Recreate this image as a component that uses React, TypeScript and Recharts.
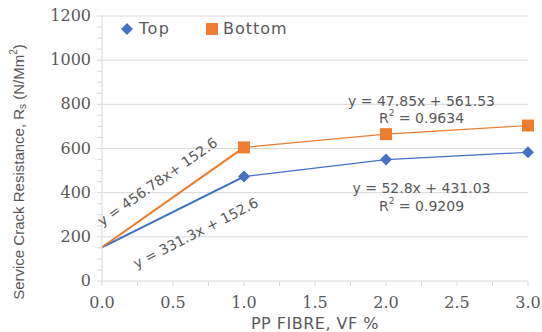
import React from 'react';
import { LineChart, Line, XAxis, YAxis, CartesianGrid, ReferenceDot, Label } from 'recharts';

// PP fibre content (VF %) and service crack resistance Rs (N/mm2)
const fibre = [0, 1, 2, 3];
const topValues = [152.6, 473, 550, 583];
const bottomValues = [152.6, 605, 665, 704];

// x ticks every 0.25, labels on the halves; y ticks every 50, labels every 200
const xTicks = [0, 0.25, 0.5, 0.75, 1, 1.25, 1.5, 1.75, 2, 2.25, 2.5, 2.75, 3];
const yTicks = [0, 50, 100, 150, 200, 250, 300, 350, 400, 450, 500, 550, 600, 650, 700, 750, 800, 850, 900, 950, 1000, 1050, 1100, 1150, 1200];
const gridValues = [200, 400, 600, 800, 1000, 1200];

const BLUE = '#4472C4';
const ORANGE = '#ED7D31';
const GREY = '#595959';
const SANS = '"DejaVu Sans", sans-serif';
const SERIF = '"DejaVu Serif", serif';

const data = fibre.map((f, i) => ({
  fibre: f,
  top: topValues[i],
  bottom: bottomValues[i],
  // linear fit through the first two points, drawn heavier
  topFit: i <= 1 ? topValues[i] : undefined,
  bottomFit: i <= 1 ? bottomValues[i] : undefined,
}));

const Diamond = (props: any) => {
  const { cx, cy, index } = props;
  if (index === 0 || cx == null) return <g key={`d${index}`} />;
  const r = 6;
  return (
    <path
      key={`d${index}`}
      d={`M${cx},${cy - r} L${cx + r},${cy} L${cx},${cy + r} L${cx - r},${cy} Z`}
      fill={BLUE}
    />
  );
};

const Square = (props: any) => {
  const { cx, cy, index } = props;
  if (index === 0 || cx == null) return <g key={`s${index}`} />;
  const s = 6;
  return <rect key={`s${index}`} x={cx - s} y={cy - s} width={s * 2} height={s * 2} fill={ORANGE} />;
};

const XTick = (props: any) => {
  const { x, y, payload } = props;
  if (Math.round(payload.value * 100) % 50 !== 0) return <g />;
  return (
    <text x={x} y={y + 20} textAnchor="middle" fill={GREY} fontFamily={SERIF} fontSize={16}>
      {payload.value.toFixed(1)}
    </text>
  );
};

const YTick = (props: any) => {
  const { x, y, payload } = props;
  if (payload.value % 200 !== 0) return <g />;
  return (
    <text x={x - 4} y={y} dy={5} textAnchor="end" fill={GREY} fontFamily={SERIF} fontSize={16}>
      {payload.value}
    </text>
  );
};

const LegendBox = () => (
  <svg width={200} height={24} style={{ position: 'absolute', left: 115, top: 17 }}>
    <path d="M12,6 L18,12 L12,18 L6,12 Z" fill={BLUE} />
    <text x={24} y={17} fill={GREY} fontFamily={SANS} fontSize={16} letterSpacing={1.5}>Top</text>
    <rect x={91} y={6} width={12} height={12} fill={ORANGE} />
    <text x={108} y={17} fill={GREY} fontFamily={SANS} fontSize={16} letterSpacing={1}>Bottom</text>
  </svg>
);

const eqLabel = (text: string, angle: number) => (props: any) => {
  const { viewBox } = props;
  const cx = viewBox.x + viewBox.width / 2;
  const cy = viewBox.y + viewBox.height / 2;
  return (
    <text
      x={cx}
      y={cy}
      textAnchor="middle"
      dominantBaseline="central"
      fill={GREY}
      fontFamily={SANS}
      fontSize={14}
      transform={angle ? `rotate(${angle}, ${cx}, ${cy})` : undefined}
    >
      {text}
    </text>
  );
};

const r2Label = (value: string) => (props: any) => {
  const { viewBox } = props;
  const cx = viewBox.x + viewBox.width / 2;
  const cy = viewBox.y + viewBox.height / 2;
  return (
    <text x={cx} y={cy} textAnchor="middle" dominantBaseline="central" fill={GREY} fontFamily={SANS} fontSize={14}>
      R<tspan dy={-5} fontSize={9}>2</tspan>
      <tspan dy={5}> = {value}</tspan>
    </text>
  );
};

export default function App() {
  return (
    <div style={{ position: 'fixed', left: 0, top: 0, width: 542, height: 332, background: '#fff' }}>
      <LineChart width={542} height={332} data={data} margin={{ top: 16, right: 14, bottom: 21, left: 42 }}>
        <CartesianGrid horizontalValues={gridValues} vertical={false} stroke="#d9d9d9" />
        <XAxis
          dataKey="fibre"
          type="number"
          domain={[0, 3]}
          ticks={xTicks}
          tick={<XTick />}
          tickSize={5}
          height={30}
          stroke="#d9d9d9"
          interval={0}
        >
          <Label
            content={(p: any) => (
              <text
                x={p.viewBox.x + p.viewBox.width / 2}
                y={p.viewBox.y + 48}
                textAnchor="middle"
                fill={GREY}
                fontFamily={SANS}
                fontSize={16}
                letterSpacing={0.5}
              >
                PP FIBRE, VF %
              </text>
            )}
          />
        </XAxis>
        <YAxis
          type="number"
          domain={[0, 1200]}
          ticks={yTicks}
          tick={<YTick />}
          tickSize={5}
          width={60}
          stroke="#d9d9d9"
          interval={0}
        >
          <Label
            content={() => (
              <text
                x={18}
                y={172}
                textAnchor="middle"
                dominantBaseline="central"
                fill={GREY}
                fontFamily='"Liberation Sans", sans-serif'
                fontSize={15}
                transform="rotate(-90, 18, 172)"
              >
                Service Crack Resistance, R<tspan dy={4} fontSize={10}>s</tspan>
                <tspan dy={-4}> (N/Mm</tspan>
                <tspan dy={-5} fontSize={10}>2</tspan>
                <tspan dy={5}>)</tspan>
              </text>
            )}
          />
        </YAxis>
        <Line dataKey="topFit" stroke={BLUE} strokeWidth={2} dot={false} isAnimationActive={false} legendType="none" />
        <Line dataKey="bottomFit" stroke={ORANGE} strokeWidth={2} dot={false} isAnimationActive={false} legendType="none" />
        <Line dataKey="top" name="Top" stroke={BLUE} strokeWidth={1.2} dot={<Diamond />} activeDot={false} isAnimationActive={false} />
        <Line dataKey="bottom" name="Bottom" stroke={ORANGE} strokeWidth={1.2} dot={<Square />} activeDot={false} isAnimationActive={false} />
        <ReferenceDot x={0.39} y={450} r={0} fill="none" stroke="none" label={eqLabel('y = 456.78x+ 152.6', -35)} />
        <ReferenceDot x={0.66} y={218} r={0} fill="none" stroke="none" label={eqLabel('y = 331.3x + 152.6', -27)} />
        <ReferenceDot x={2.25} y={814} r={0} fill="none" stroke="none" label={eqLabel('y = 47.85x + 561.53', 0)} />
        <ReferenceDot x={2.25} y={736} r={0} fill="none" stroke="none" label={r2Label('0.9634')} />
        <ReferenceDot x={2.25} y={423} r={0} fill="none" stroke="none" label={eqLabel('y = 52.8x + 431.03', 0)} />
        <ReferenceDot x={2.25} y={341} r={0} fill="none" stroke="none" label={r2Label('0.9209')} />
      </LineChart>
      <LegendBox />
    </div>
  );
}
